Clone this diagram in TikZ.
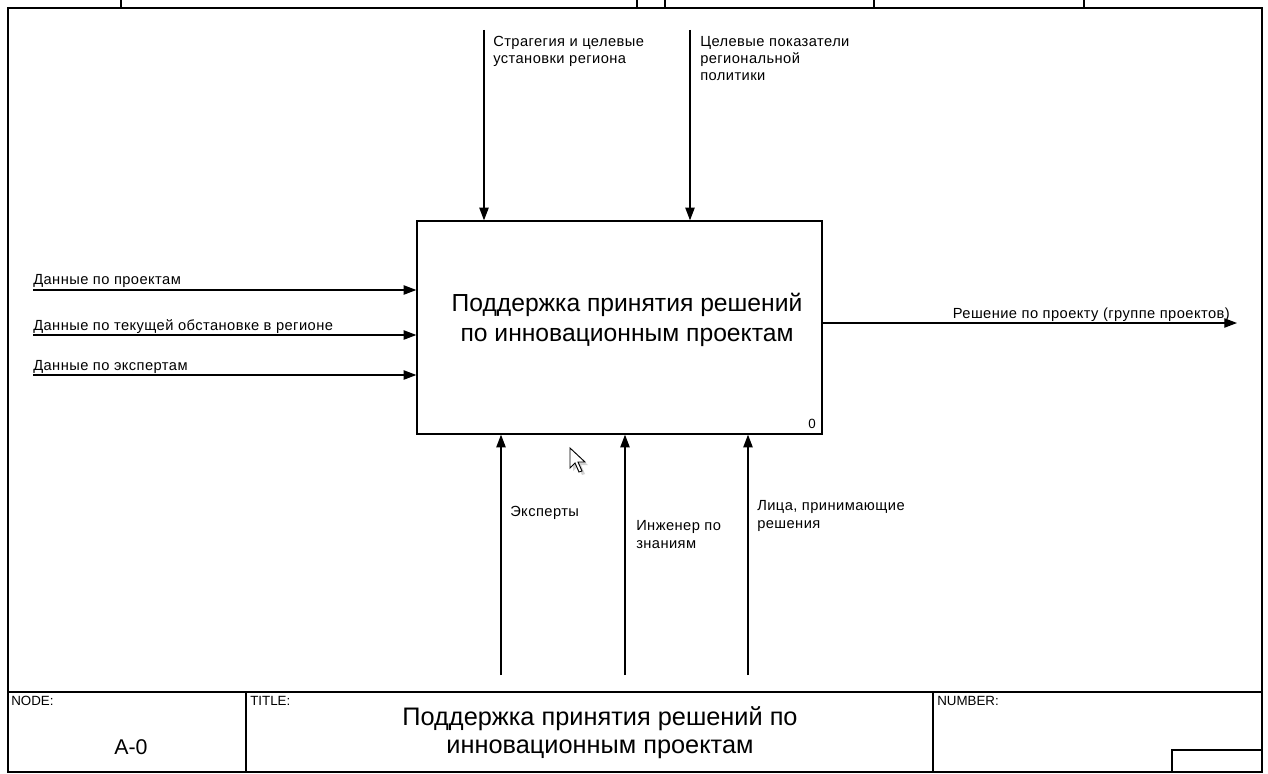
\documentclass[tikz,border=0pt]{standalone}
\usepackage{fontspec}
\setmainfont{Liberation Sans}
\newfontfamily\pixfont[LetterSpace=3]{Liberation Sans}
\usetikzlibrary{arrows.meta,positioning}

\begin{document}
\begin{tikzpicture}[
    x=0.75pt,y=-0.75pt,
    flow/.style={-{Triangle[length=9.5pt,width=7pt]},line width=0.9pt},
    rim/.style={line width=1.4pt},
    lbl/.style={font=\pixfont\fontsize{11}{12.8}\selectfont,inner sep=0pt,align=left},
    func/.style={draw,line width=1pt,minimum width=303.75pt,minimum height=159.75pt},
    tag/.style={font=\fontsize{10}{12}\selectfont,inner sep=0pt}
]
\useasboundingbox (0,0) rectangle (1268,774);

% Frame and ticks on top
\draw[rim] (8,8) -- (1262,8) -- (1262,772) -- (8,772) -- cycle;
\foreach \tx in {121,637,665,874,1084}
  \draw[line width=1pt] (\tx,0) -- (\tx,8);

% Title block
\draw[rim] (8,692) -- (1262,692);
\draw[line width=1pt] (246,692) -- (246,772);
\draw[line width=1pt] (933,692) -- (933,772);
\draw[line width=1pt] (1172,772) -- (1172,750) -- (1262,750);
\node[tag,anchor=north west] (nodetag) at (11,696) {NODE:};
\node[tag,anchor=north west] (titletag) at (250,696) {TITLE:};
\node[tag,anchor=north west] (numtag) at (937,696) {NUMBER:};
\node[font=\fontsize{16}{18}\selectfont] (nodeno) at (131,747) {A-0};
\node[font=\fontsize{19}{21}\selectfont,align=center] (title) at (600,733)
  {Поддержка принятия решений по\\инновационным проектам};

% Function box
\node[func] (A0) at (619.5,327.5) {};
\node[font=\fontsize{18.5}{22.5}\selectfont,align=center] (A0txt) at (627,320)
  {Поддержка принятия решений\\по инновационным проектам};
\node[tag,anchor=base east] (A0num) at (816,428) {0};

% Controls
\coordinate (c1) at (484,30);
\coordinate (c2) at (690,30);
\draw[flow] (c1) -- (c1 |- A0.north);
\draw[flow] (c2) -- (c2 |- A0.north);
\node[lbl,anchor=base west] (c1lbl) at (493,64) {Страгегия и целевые\\установки региона};
\node[lbl,anchor=base west] (c2lbl) at (700,81) {Целевые показатели\\региональной\\политики};

% Inputs
\coordinate (i1) at (33,290);
\coordinate (i2) at (33,335);
\coordinate (i3) at (33,375);
\draw[flow] (i1) -- (i1 -| A0.west);
\draw[flow] (i2) -- (i2 -| A0.west);
\draw[flow] (i3) -- (i3 -| A0.west);
\node[lbl,anchor=base west] (i1lbl) at (33,284) {Данные по проектам};
\node[lbl,anchor=base west] (i2lbl) at (33,330) {Данные по текущей обстановке в регионе};
\node[lbl,anchor=base west] (i3lbl) at (33,370) {Данные по экспертам};

% Output
\coordinate (o1) at (1237,323);
\draw[flow] (o1 -| A0.east) -- (o1);
\node[lbl,anchor=base east] (o1lbl) at (1230,318) {Решение по проекту (группе проектов)};

% Mechanisms
\coordinate (m1) at (501,675);
\coordinate (m2) at (625,675);
\coordinate (m3) at (748,675);
\draw[flow] (m1) -- (m1 |- A0.south);
\draw[flow] (m2) -- (m2 |- A0.south);
\draw[flow] (m3) -- (m3 |- A0.south);
\node[lbl,anchor=base west] (m1lbl) at (510,516) {Эксперты};
\node[lbl,anchor=base west] (m2lbl) at (636,548) {Инженер по\\знаниям};
\node[lbl,anchor=base west] (m3lbl) at (757,528) {Лица, принимающие\\решения};

% Mouse pointer
\begin{scope}[shift={(570,448)}]
  \fill[black!35,opacity=0.5] (3,3) -- (3,23) -- (8,18) -- (12,27) -- (15,26) -- (11,17) -- (18,17) -- cycle;
  \draw[fill=white,line width=0.7pt] (0,0) -- (0,20) -- (5,15) -- (9,24) -- (12,23) -- (8,14) -- (15,14) -- cycle;
\end{scope}

\end{tikzpicture}
\end{document}
